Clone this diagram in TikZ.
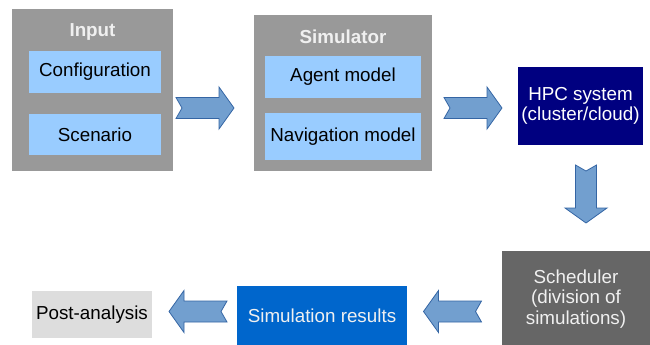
\documentclass[tikz,border=0pt]{standalone}
\usepackage{fontspec}
\setmainfont{Liberation Sans}
\usetikzlibrary{positioning, calc}
\definecolor{cgrey}{HTML}{999999}
\definecolor{cdark}{HTML}{666666}
\definecolor{cpale}{HTML}{DDDDDD}
\definecolor{csky}{HTML}{99CCFF}
\definecolor{cnavy}{HTML}{000080}
\definecolor{cblue}{HTML}{0066CC}
\definecolor{carrowfill}{HTML}{729FCF}
\definecolor{carrowline}{HTML}{3465A4}
\tikzset{
  every picture/.style={font=\fontsize{18.8}{20.6}\selectfont, x=1pt, y=-1pt},
  box/.style={fill=#1, draw=none, align=center, inner sep=0pt},
  box/.default=cgrey,
  title/.style={font=\fontsize{18.8}{20.6}\selectfont\bfseries, text=white!94!black},
  flowarrow/.pic={
    \draw[fill=carrowfill, draw=carrowline, line width=0.8pt, line join=miter]
      (-29,-10.5) -- (14,-10.5) -- (14,-21) -- (29,0) -- (14,21) -- (14,10.5)
      -- (-29,10.5) -- (-23,0) -- cycle;
  },
}

\begin{document}
\begin{tikzpicture}
  \useasboundingbox (0,0) rectangle (650,345);
  % top row: input and simulator
  \node[box, minimum width=161pt, minimum height=161pt] (input) at (92.5,90) {};
  \node[title] (inputtitle) at (92.5,32) {Input};
  \node[box=csky, minimum width=132pt, minimum height=42pt] (config) at (95,72) {Configuration};
  \node[box=csky, minimum width=132pt, minimum height=41pt] (scenario) at (95,134.5) {Scenario};

  \node[box, minimum width=178pt, minimum height=156pt] (simulator) at (343,93) {};
  \node[title] (simtitle) at (343,37) {Simulator};
  \node[box=csky, minimum width=156pt, minimum height=42pt] (agent) at (343,77) {Agent model};
  \node[box=csky, minimum width=156pt, minimum height=47pt] (navigation) at (343,136.5) {Navigation model};

  \node[box=cnavy, text=white, minimum width=125pt, minimum height=78pt] (hpc) at (580.5,106) {HPC system\\(cluster/cloud)};

  % bottom row, right to left
  \node[box=cdark, text=white!94!black, minimum width=148pt, minimum height=96pt] (scheduler) at (576,299) {Scheduler\\(division of\\simulations)};
  \node[box=cblue, text=white!94!black, minimum width=170pt, minimum height=60pt] (results) at (322,316) {Simulation results};
  \node[box=cpale, minimum width=120pt, minimum height=47pt] (post) at (92,314.5) {Post-analysis};

  % block arrows between the stages
  \pic at (205,108) {flowarrow};
  \pic at (473,108) {flowarrow};
  \pic[rotate=-90] at (586,194) {flowarrow};
  \pic[rotate=180] at (452.5,311.5) {flowarrow};
  \pic[rotate=180] at (198,311.5) {flowarrow};
\end{tikzpicture}
\end{document}
